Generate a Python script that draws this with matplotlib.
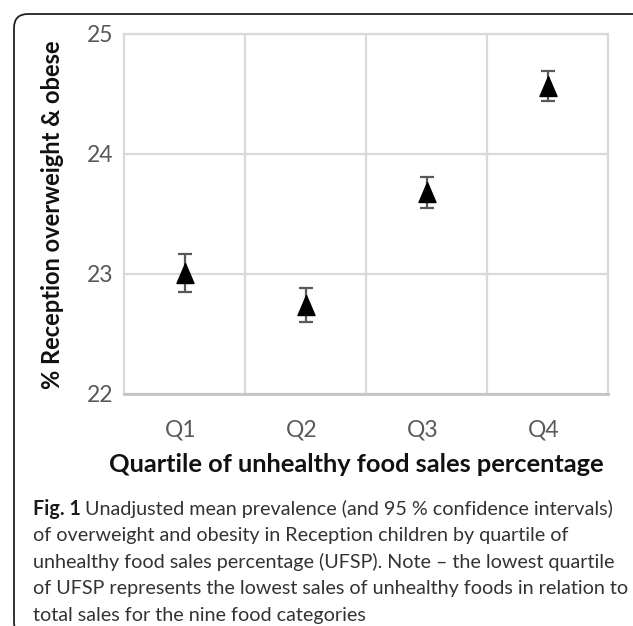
import matplotlib
matplotlib.use("Agg")
import matplotlib.pyplot as plt
from matplotlib.patches import FancyBboxPatch
from matplotlib.path import Path
from matplotlib.transforms import IdentityTransform, ScaledTranslation

# Mean prevalence (%) of overweight & obesity with 95% CI, by UFSP quartile
quartiles = ["Q1", "Q2", "Q3", "Q4"]
means = [23.01, 22.74, 23.68, 24.57]
ci_low = [22.85, 22.60, 23.55, 24.44]
ci_high = [23.17, 22.88, 23.81, 24.69]
yticks = [22, 23, 24, 25]

W, H = 633, 626
fig = plt.figure(figsize=(W / 100, H / 100), dpi=100)
fig.patch.set_facecolor("white")

# Rounded frame (pixel coordinates; it runs off the right and bottom edges)
frame = FancyBboxPatch((14, H - 636), 720, 622,
                       boxstyle="round,pad=0,rounding_size=14",
                       transform=IdentityTransform(), fill=False,
                       edgecolor="#222222", linewidth=1.3)
fig.patches.append(frame)

ax = fig.add_axes([124 / W, 1 - 394 / H, (608 - 124) / W, (394 - 34) / H])
font = "Lato"
grid_c = "#d9d9d9"
tick_c = "#595959"

# Tall, slightly narrow triangle marker
tri = Path([(0, 1), (-0.85, -1), (0.85, -1), (0, 1)],
           [Path.MOVETO, Path.LINETO, Path.LINETO, Path.CLOSEPOLY])

x = list(range(1, len(quartiles) + 1))
yerr = [[m - lo for m, lo in zip(means, ci_low)],
        [hi - m for m, hi in zip(means, ci_high)]]
ax.errorbar(x, means, yerr=yerr, fmt="none", ecolor=tick_c,
            elinewidth=1.6, capsize=5, capthick=1.6, zorder=3)
ax.plot(x, means, linestyle="none", marker=tri, markersize=14.4,
        color="black", zorder=4)

ax.set_xlim(0.5, 4.5)
ax.set_ylim(22, 25)
ax.set_yticks(yticks)
ax.set_xticks(x)
ax.set_xticklabels(quartiles)
ax.set_xticks([1.5, 2.5, 3.5], minor=True)
ax.yaxis.grid(True, color=grid_c, linewidth=1.6)
ax.xaxis.grid(True, which="minor", color=grid_c, linewidth=1.6)
ax.set_axisbelow(True)
for side in ["top", "right", "left"]:
    ax.spines[side].set_color(grid_c)
    ax.spines[side].set_linewidth(1.6)
ax.spines["bottom"].set_color("#c4c4c4")
ax.spines["bottom"].set_linewidth(2.0)
ax.tick_params(axis="both", which="both", length=0, colors=tick_c,
               labelsize=16.5)
ax.tick_params(axis="x", pad=18)
ax.tick_params(axis="y", pad=8)
shift = ScaledTranslation(-4 / 100, 0, fig.dpi_scale_trans)
for lab in ax.get_xticklabels():
    lab.set_fontfamily(font)
    lab.set_transform(lab.get_transform() + shift)
for lab in ax.get_yticklabels():
    lab.set_fontfamily(font)

fig.canvas.draw()
r = fig.canvas.get_renderer()


def fit(txt, target_px, vertical=False):
    """Scale a text's font size so its extent spans target_px pixels."""
    bb = txt.get_window_extent(renderer=r)
    span = bb.height if vertical else bb.width
    txt.set_fontsize(txt.get_fontsize() * target_px / span)


ylab = fig.text(53 / W, 1 - 215 / H, "% Reception overweight & obese",
                rotation=90, ha="center", va="center", fontsize=16,
                fontweight="bold", family=font, color="#111111")
fit(ylab, 350, vertical=True)

xlab = fig.text(356 / W, 1 - 465 / H,
                "Quartile of unhealthy food sales percentage",
                ha="center", va="center", fontsize=17, fontweight="bold",
                family=font, color="#111111")
fit(xlab, 497)

# Caption below the chart
cap_color = "#333333"
first_bold = "Fig. 1"
first_rest = "Unadjusted mean prevalence (and 95 % confidence intervals)"
cap_lines = [
    "of overweight and obesity in Reception children by quartile of",
    "unhealthy food sales percentage (UFSP). Note \u2013 the lowest quartile",
    "of UFSP represents the lowest sales of unhealthy foods in relation to",
    "total sales for the nine food categories",
]
x0 = 33 / W
y0 = 1 - 509 / H
step = 26.6 / H

probe = fig.text(0, 0, first_bold + " " + first_rest, fontsize=13,
                 family=font)
fig.canvas.draw()
w = probe.get_window_extent(renderer=r).width
cap_size = 13 * 579 / w
probe.remove()

t = fig.text(x0, y0, first_bold, fontsize=cap_size, fontweight="bold",
             family=font, color="#1a1a1a", va="center")
fig.canvas.draw()
bb = t.get_window_extent(renderer=r)
fig.text(bb.x1 / W + 4 / W, y0, first_rest, fontsize=cap_size, family=font,
         color=cap_color, va="center")
for i, line in enumerate(cap_lines, start=1):
    fig.text(x0, y0 - i * step, line, fontsize=cap_size, family=font,
             color=cap_color, va="center")

fig.savefig("out.png", dpi=100)
